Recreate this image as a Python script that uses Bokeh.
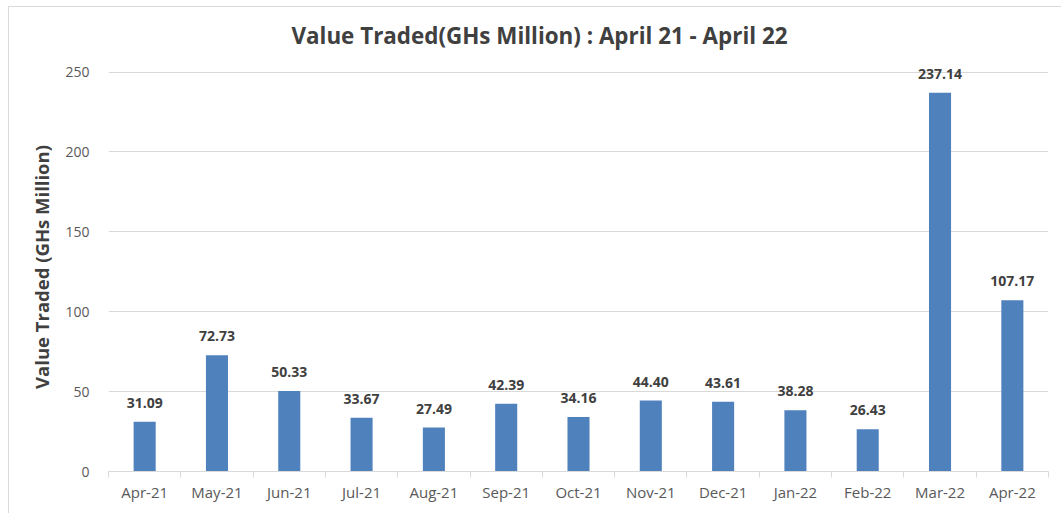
from bokeh.plotting import figure
from bokeh.models import ColumnDataSource, Range1d, FixedTicker, LabelSet, Title
from bokeh.core.properties import value
from bokeh.embed import file_html
from bokeh.resources import INLINE

months = ["Apr-21", "May-21", "Jun-21", "Jul-21", "Aug-21", "Sep-21", "Oct-21",
          "Nov-21", "Dec-21", "Jan-22", "Feb-22", "Mar-22", "Apr-22"]
values = [31.09, 72.73, 50.33, 33.67, 27.49, 42.39, 34.16,
          44.40, 43.61, 38.28, 26.43, 237.14, 107.17]
y_ticks = [0, 50, 100, 150, 200, 250]

xs = [i + 0.5 for i in range(len(months))]
src = ColumnDataSource(dict(x=xs, v=values, lbl=[f"{v:.2f}" for v in values]))

FONT = "Open Sans"
p = figure(width=1053, height=507, output_backend="svg", toolbar_location=None,
           x_range=Range1d(0, len(months)), y_range=Range1d(0, 256),
           min_border_left=99, min_border_right=14, min_border_top=55, min_border_bottom=43)
p.styles = {"margin-left": "8px", "margin-top": "6px",
            "border-left": "1px solid #d9d9d9", "border-top": "1px solid #d9d9d9"}
p.outline_line_color = None
p.background_fill_color = "white"
p.border_fill_color = "white"

t = Title(text="Value Traded(GHs Million) : April 21 - April 22", align="left",
          vertical_align="top",
          text_font=FONT, text_font_size="22.4px", text_font_style="bold",
          text_color="#404040", offset=183, standoff=20)
p.add_layout(t, "above")

p.vbar(x="x", top="v", width=0.305, source=src, fill_color="#4F81BD", line_color=None)

labels = LabelSet(x="x", y="v", text="lbl", source=src, text_align="center",
                  text_baseline="bottom", y_offset=14, text_font=value(FONT),
                  text_font_size=value("14px"), text_font_style="bold", text_color="#404040")
p.add_layout(labels)

# x axis
p.xaxis.ticker = FixedTicker(ticks=xs, minor_ticks=list(range(len(months) + 1)))
p.xaxis.major_label_overrides = {x: m for x, m in zip(xs, months)}
p.xaxis.major_tick_line_color = None
p.xaxis.minor_tick_line_color = "#d9d9d9"
p.xaxis.minor_tick_out = 6
p.xaxis.minor_tick_in = 0
p.xaxis.axis_line_color = "#d9d9d9"
p.xaxis.axis_line_width = 1
p.xaxis.major_label_text_font = FONT
p.xaxis.major_label_text_font_size = "15px"
p.xaxis.major_label_text_color = "#595959"
p.xaxis.major_label_standoff = 4
p.xgrid.grid_line_color = None

# y axis
p.yaxis.ticker = FixedTicker(ticks=y_ticks)
p.yaxis.axis_line_color = None
p.yaxis.major_tick_line_color = None
p.yaxis.minor_tick_line_color = None
p.yaxis.major_label_text_font = FONT
p.yaxis.major_label_text_font_size = "14px"
p.yaxis.major_label_text_color = "#595959"
p.yaxis.major_label_standoff = 13
p.yaxis.axis_label = "Value Traded (GHs Million)"
p.yaxis.axis_label_text_font = FONT
p.yaxis.axis_label_text_font_size = "18.5px"
p.yaxis.axis_label_text_font_style = "bold"
p.yaxis.axis_label_text_color = "#404040"
p.yaxis.axis_label_standoff = 8
p.ygrid.grid_line_color = "#d9d9d9"
p.ygrid.grid_line_width = 1

open("out.html", "w").write(file_html(p, INLINE))
